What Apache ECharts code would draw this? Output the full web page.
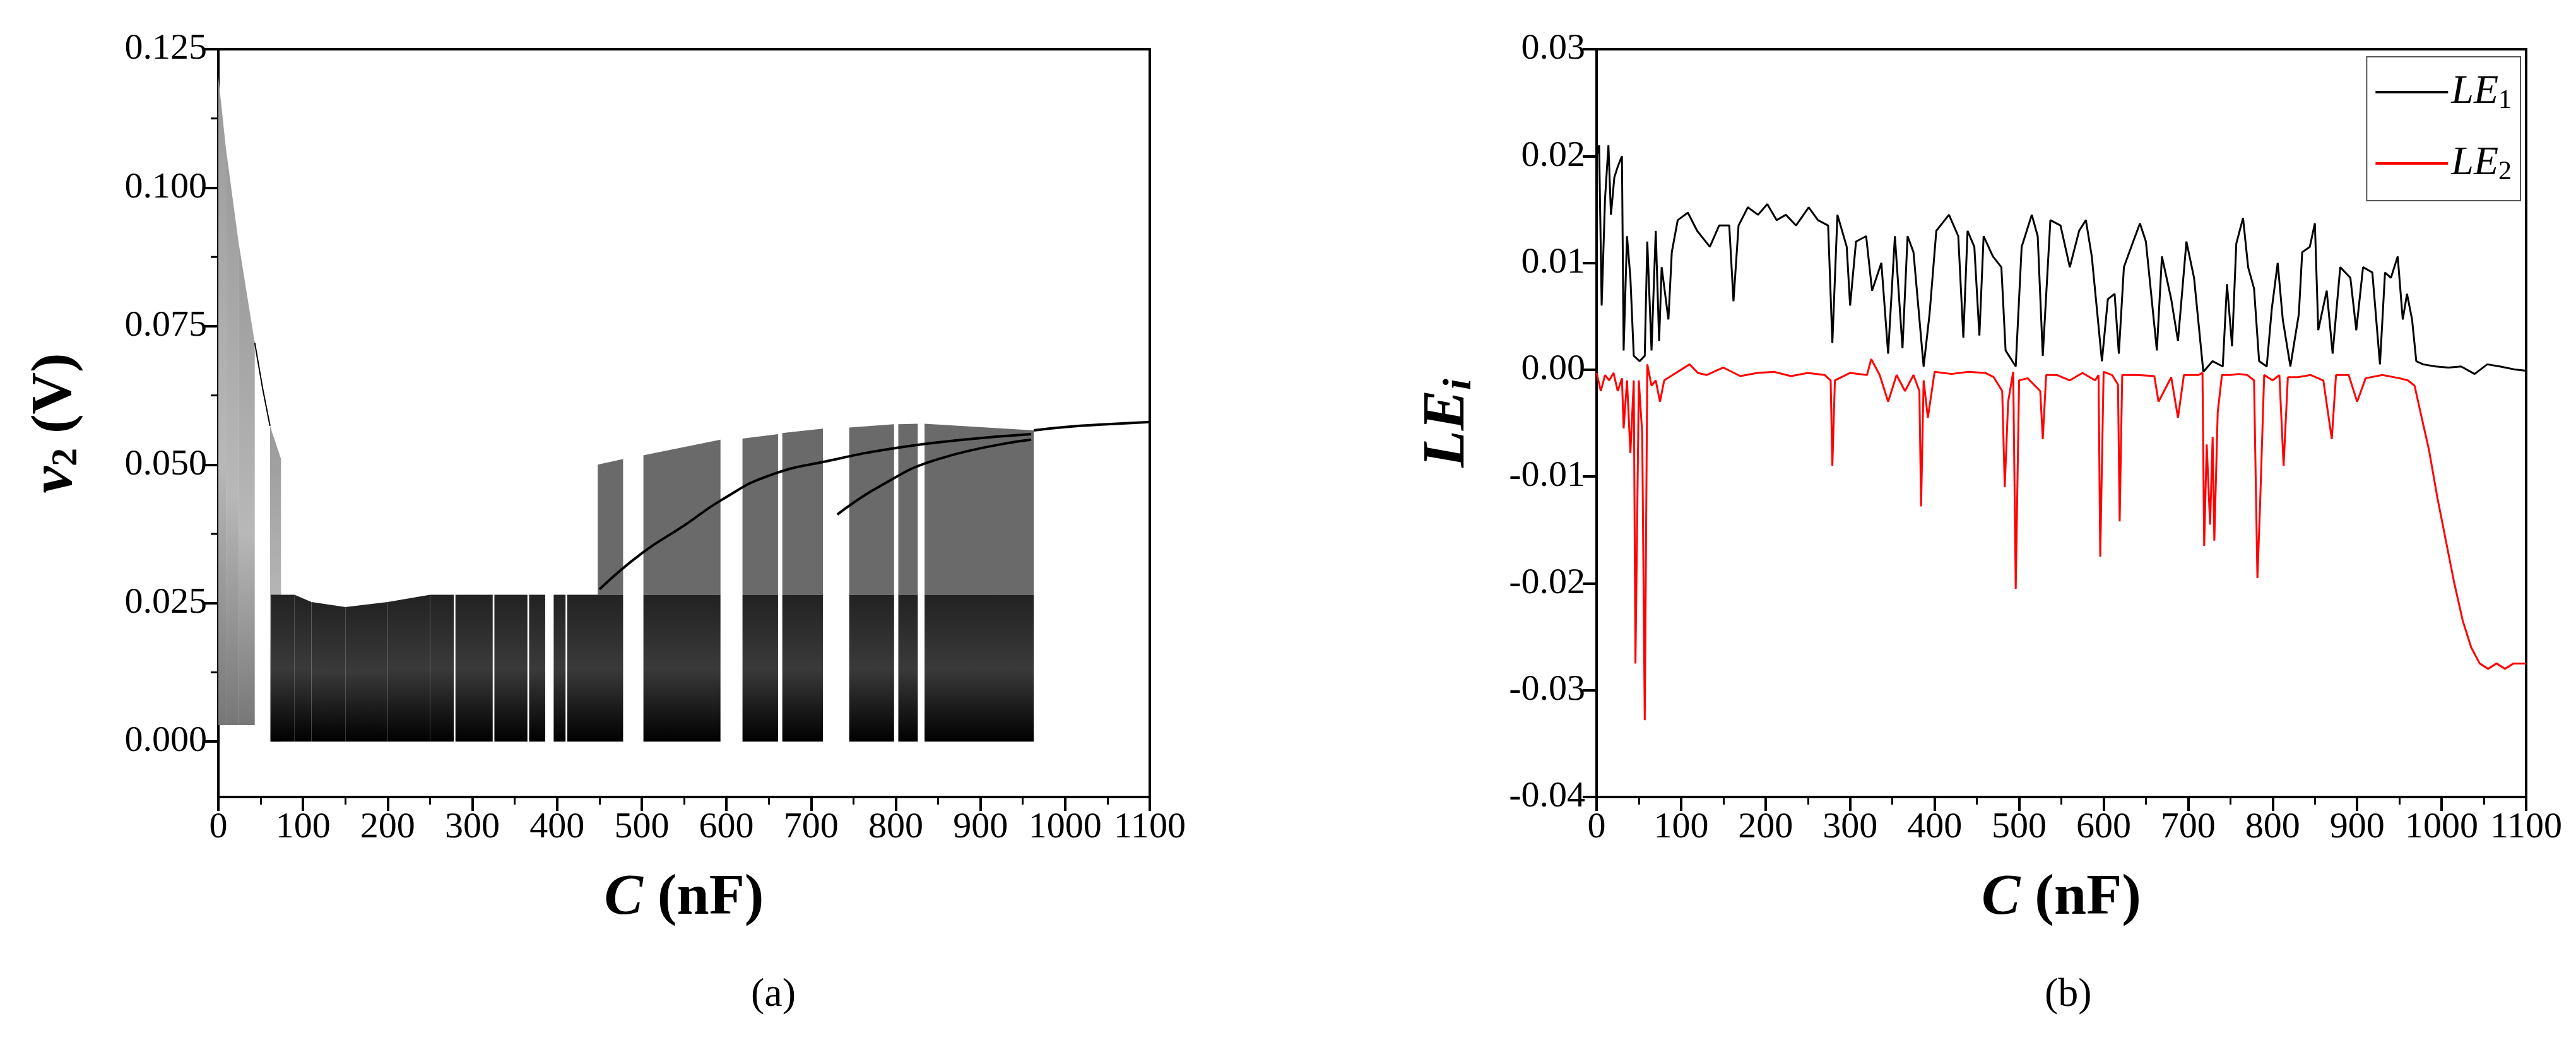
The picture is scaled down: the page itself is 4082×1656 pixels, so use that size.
<!DOCTYPE html>
<html><head><meta charset="utf-8">
<script src="https://cdn.jsdelivr.net/npm/echarts@6/dist/echarts.min.js"></script>
<style>html,body{margin:0;padding:0;background:#fff}#c{width:4082px;height:1656px}</style>
</head><body><div id="c"></div>
<script>
// ---- panel (a): bifurcation diagram, read as bands [C0, C1, low, top@C0, top@C1]
const sparseBands = [[0,9,0.003,0.120,0.107],[9,24,0.003,0.107,0.090],[24,43,0.003,0.090,0.072],[61,74,0,0.057,0.051]];
const lowerBands = [[62,90,0,0.0265,0.0265],[90,110,0,0.0265,0.0252],[110,150,0,0.0252,0.0243],[150,200,0,0.0243,0.0252],
  [200,250,0,0.0252,0.0265],[250,278,0,0.0265,0.0265],[280,324,0,0.0265,0.0265],[326,365,0,0.0265,0.0265],
  [367,386,0,0.0265,0.0265],[396,410,0,0.0265,0.0265],[412,478,0,0.0265,0.0265],[502,593,0,0.0265,0.0265],
  [619,661,0,0.0265,0.0265],[666,714,0,0.0265,0.0265],[745,798,0,0.0265,0.0265],[803,826,0,0.0265,0.0265],[834,963,0,0.0265,0.0265]];
const upperBands = [[448,478,0.0265,0.050,0.051],[502,593,0.0265,0.0517,0.0545],[619,661,0.0265,0.0547,0.0555],
  [666,714,0.0265,0.0557,0.0565],[745,798,0.0265,0.0567,0.0573],[803,826,0.0265,0.0573,0.0574],[834,963,0.0265,0.0574,0.0562]];
const branchA = [[450,0.0275],[500,0.034],[550,0.039],[595,0.0437],[650,0.048],[724,0.0508],[800,0.053],[880,0.0545],[960,0.0555]];
const branchB = [[731,0.041],[780,0.046],[850,0.051],[960,0.0545]];
const branchC = [[43,0.072],[52,0.064],[61,0.057]];
const tailLine = [[963,0.0562],[1000,0.0568],[1050,0.0573],[1100,0.0577]];
const yTicksA = [0,0.025,0.05,0.075,0.1,0.125];
const yMinorA = [0.0375,0.0625,0.0875,0.1125,0.0125];

// ---- panel (b): Lyapunov exponents
const LE1 = [[0,0.020],[3,0.021],[6,0.006],[10,0.016],[14,0.021],[17,0.0145],[21,0.018],[25,0.019],[30,0.020],[32,0.0018],[36,0.0125],[40,0.0086],[44,0.0013],[51,0.0008],[57,0.0013],[60,0.012],[65,0.0018],[70,0.013],[74,0.0027],[77,0.0096],[85,0.0047],[89,0.011],[96,0.014],[108,0.0147],[119,0.013],[134,0.0115],[145,0.0135],[157,0.0135],[162,0.0064],[168,0.0135],[179,0.0152],[191,0.0145],[202,0.0155],[213,0.014],[224,0.0145],[236,0.0135],[251,0.0152],[262,0.014],[274,0.0135],[279,0.0025],[285,0.0145],[296,0.0115],[300,0.006],[307,0.012],[319,0.0125],[326,0.0074],[337,0.010],[345,0.0015],[353,0.0125],[362,0.002],[368,0.0125],[375,0.011],[387,0.0003],[394,0.0052],[402,0.013],[417,0.0145],[428,0.0125],[434,0.003],[439,0.013],[447,0.0115],[453,0.0032],[458,0.0125],[469,0.0106],[479,0.0096],[484,0.0018],[496,0.0003],[503,0.0115],[515,0.0145],[522,0.0125],[528,0.0013],[537,0.014],[549,0.0135],[560,0.0096],[571,0.013],[579,0.014],[586,0.0106],[598,0.0008],[605,0.0066],[613,0.0071],[618,0.0015],[624,0.0096],[635,0.012],[643,0.0137],[650,0.012],[663,0.0018],[669,0.0106],[680,0.0066],[688,0.0027],[698,0.012],[707,0.0086],[718,-0.0002],[729,0.0008],[741,0.0003],[746,0.008],[752,0.0022],[757,0.0118],[765,0.0142],[771,0.0096],[778,0.0076],[784,0.0008],[793,0.0003],[799,0.0057],[806,0.010],[812,0.0047],[821,0.0003],[831,0.0052],[835,0.011],[844,0.0115],[850,0.0137],[854,0.0037],[864,0.0074],[871,0.0015],[880,0.0096],[892,0.0086],[899,0.0037],[907,0.0096],[918,0.0091],[927,0.0005],[933,0.0091],[940,0.0086],[948,0.0106],[954,0.0047],[959,0.0071],[965,0.0047],[970,0.0008],[978,0.0005],[993,0.0003],[1008,0.0002],[1023,0.0003],[1039,-0.0004],[1054,0.0005],[1069,0.0003],[1088,0.0000],[1100,-0.0001]];
const LE2 = [[0,-0.0003],[5,-0.002],[10,-0.0005],[15,-0.001],[20,-0.0003],[25,-0.002],[30,-0.0008],[32,-0.0055],[36,-0.001],[40,-0.0078],[44,-0.001],[46,-0.0275],[50,-0.001],[54,-0.006],[57,-0.0328],[60,0.0005],[65,-0.0015],[70,-0.001],[75,-0.003],[80,-0.001],[90,-0.0005],[100,0],[110,0.0005],[120,-0.0003],[130,-0.0005],[150,0.0002],[170,-0.0006],[190,-0.0003],[210,-0.0002],[230,-0.0006],[250,-0.0003],[270,-0.0005],[277,-0.001],[279,-0.009],[282,-0.001],[300,-0.0003],[320,-0.0005],[325,0.001],[335,-0.0005],[345,-0.003],[355,-0.0005],[365,-0.002],[375,-0.0005],[382,-0.002],[384,-0.0128],[387,-0.001],[392,-0.0045],[400,-0.0002],[420,-0.0004],[440,-0.0002],[460,-0.0003],[470,-0.0007],[480,-0.002],[483,-0.011],[487,-0.003],[493,-0.0002],[496,-0.0205],[500,-0.001],[510,-0.0008],[525,-0.002],[528,-0.0065],[532,-0.0005],[545,-0.0005],[560,-0.001],[575,-0.0003],[590,-0.001],[594,-0.0005],[596,-0.0175],[600,-0.0002],[610,-0.0005],[617,-0.0014],[619,-0.0142],[622,-0.0005],[640,-0.0005],[660,-0.0006],[665,-0.003],[680,-0.0007],[688,-0.0045],[695,-0.0005],[712,-0.0005],[717,-0.0003],[719,-0.0165],[722,-0.007],[726,-0.0145],[729,-0.0063],[731,-0.016],[735,-0.004],[740,-0.0005],[750,-0.0005],[760,-0.0004],[770,-0.0005],[778,-0.001],[782,-0.0195],[785,-0.013],[790,-0.0005],[800,-0.001],[808,-0.0005],[813,-0.009],[818,-0.0007],[830,-0.0007],[845,-0.0005],[860,-0.001],[870,-0.0065],[875,-0.0005],[890,-0.0005],[900,-0.003],[910,-0.0008],[930,-0.0005],[950,-0.0008],[960,-0.001],[968,-0.0015],[975,-0.004],[985,-0.0075],[995,-0.012],[1005,-0.016],[1015,-0.02],[1025,-0.0235],[1035,-0.026],[1045,-0.0275],[1055,-0.028],[1065,-0.0275],[1075,-0.028],[1085,-0.0275],[1100,-0.0275]];

const FONT = 'Liberation Serif';
const chart = echarts.init(document.getElementById('c'));
function bandRender(fill){
  return function(params, api){
    const c0=api.value(0), c1=api.value(1), lo=api.value(2), h0=api.value(3), h1=api.value(4);
    const pts=[api.coord([c0,lo]),api.coord([c1,lo]),api.coord([c1,h1]),api.coord([c0,h0])];
    return {type:'polygon', shape:{points:pts}, style:{fill:fill}};
  };
}
const xAxisCommon = {type:'value', min:0, max:1100, interval:100,
  axisLine:{onZero:false,lineStyle:{color:'#000',width:4}}, axisTick:{length:22,lineStyle:{color:'#000',width:4}},
  minorTick:{show:true,splitNumber:2,length:12,lineStyle:{color:'#000',width:3}},
  splitLine:{show:false}, axisLabel:{formatter:v=>String(v),fontFamily:FONT,fontSize:58,color:'#000',margin:20},
  name:'{c|C}{n| (nF)}', nameLocation:'middle', nameGap:115,
  nameTextStyle:{rich:{c:{fontFamily:FONT,fontSize:92,fontWeight:'bold',fontStyle:'italic'},n:{fontFamily:FONT,fontSize:92,fontWeight:'bold'}}}};
chart.setOption({
  animation:false,
  grid:[{left:346,top:78,width:1476,height:1185,show:true,borderColor:'#000',borderWidth:4},
        {left:2530,top:78,width:1473,height:1185,show:true,borderColor:'#000',borderWidth:4}],
  legend:{gridIndex:1, right:88, top:90, orient:'vertical', data:['LE1','LE2'], itemWidth:115, itemHeight:4, itemGap:46,
    borderColor:'#555', borderWidth:2, padding:[24,14,24,14], icon:'rect',
    formatter:function(n){return '{i|LE}{s|'+n.slice(2)+'}';},
    textStyle:{rich:{i:{fontFamily:FONT,fontSize:64,fontStyle:'italic',color:'#000'},s:{fontFamily:FONT,fontSize:42,color:'#000',padding:[28,0,0,0]}}}},
  xAxis:[Object.assign({gridIndex:0},xAxisCommon), Object.assign({gridIndex:1},xAxisCommon)],
  yAxis:[{gridIndex:0,type:'value',min:-0.01,max:0.125,
      axisLine:{lineStyle:{color:'#000',width:4}},
      axisTick:{customValues:yTicksA,length:22,lineStyle:{color:'#000',width:4}},
      axisLabel:{customValues:yTicksA,formatter:v=>v.toFixed(3),fontFamily:FONT,fontSize:58,color:'#000',margin:18},
      splitLine:{show:false},
      name:'{v|v}{s|2}{n| (V)}', nameLocation:'middle', nameGap:210,
      nameTextStyle:{rich:{v:{fontFamily:FONT,fontSize:96,fontWeight:'bold',fontStyle:'italic'},s:{fontFamily:FONT,fontSize:58,fontWeight:'bold',padding:[36,0,0,0]},n:{fontFamily:FONT,fontSize:92,fontWeight:'bold'}}}},
    {gridIndex:1,type:'value',min:-0.04,max:0.03,interval:0.01,
      axisLine:{lineStyle:{color:'#000',width:4}},
      axisTick:{length:22,lineStyle:{color:'#000',width:4}},
      axisLabel:{formatter:v=>v.toFixed(2),fontFamily:FONT,fontSize:58,color:'#000',margin:18},
      splitLine:{show:false},
      name:'{v|LE}{s|i}', nameLocation:'middle', nameGap:185,
      nameTextStyle:{rich:{v:{fontFamily:FONT,fontSize:96,fontWeight:'bold',fontStyle:'italic'},s:{fontFamily:FONT,fontSize:64,fontWeight:'bold',fontStyle:'italic',padding:[36,0,0,0]}}}}],
  graphic:[
    {type:'text',left:1190,top:1545,style:{text:'(a)',font:'64px "Liberation Serif"',fill:'#000'}},
    {type:'text',left:3240,top:1545,style:{text:'(b)',font:'64px "Liberation Serif"',fill:'#000'}}
  ].concat(yMinorA.map(v=>({type:'line',shape:{x1:346,y1:78+1185*(0.125-v)/0.135,x2:334,y2:78+1185*(0.125-v)/0.135},style:{stroke:'#000',lineWidth:3}}))),
  series:[
    {type:'custom',xAxisIndex:0,yAxisIndex:0,data:sparseBands,renderItem:bandRender({type:'linear',x:0,y:0,x2:0,y2:1,colorStops:[{offset:0,color:'#9a9a9a'},{offset:0.6,color:'#b8b8b8'},{offset:1,color:'#777'}]})},
    {type:'custom',xAxisIndex:0,yAxisIndex:0,data:upperBands,renderItem:bandRender('#6a6a6a')},
    {type:'custom',xAxisIndex:0,yAxisIndex:0,data:lowerBands,renderItem:bandRender({type:'linear',x:0,y:0,x2:0,y2:1,colorStops:[{offset:0,color:'#222'},{offset:0.5,color:'#3a3a3a'},{offset:1,color:'#000'}]})},
    {type:'line',xAxisIndex:0,yAxisIndex:0,data:branchA,showSymbol:false,smooth:true,lineStyle:{color:'#000',width:4}},
    {type:'line',xAxisIndex:0,yAxisIndex:0,data:branchB,showSymbol:false,smooth:true,lineStyle:{color:'#000',width:4}},
    {type:'line',xAxisIndex:0,yAxisIndex:0,data:branchC,showSymbol:false,lineStyle:{color:'#000',width:2}},
    {type:'line',xAxisIndex:0,yAxisIndex:0,data:tailLine,showSymbol:false,smooth:true,lineStyle:{color:'#000',width:4}},
    {name:'LE1',type:'line',xAxisIndex:1,yAxisIndex:1,data:LE1,showSymbol:false,color:'#000',lineStyle:{color:'#000',width:3}},
    {name:'LE2',type:'line',xAxisIndex:1,yAxisIndex:1,data:LE2,showSymbol:false,color:'#ff0000',lineStyle:{color:'#ff0000',width:3}}
  ]
});
</script></body></html>
